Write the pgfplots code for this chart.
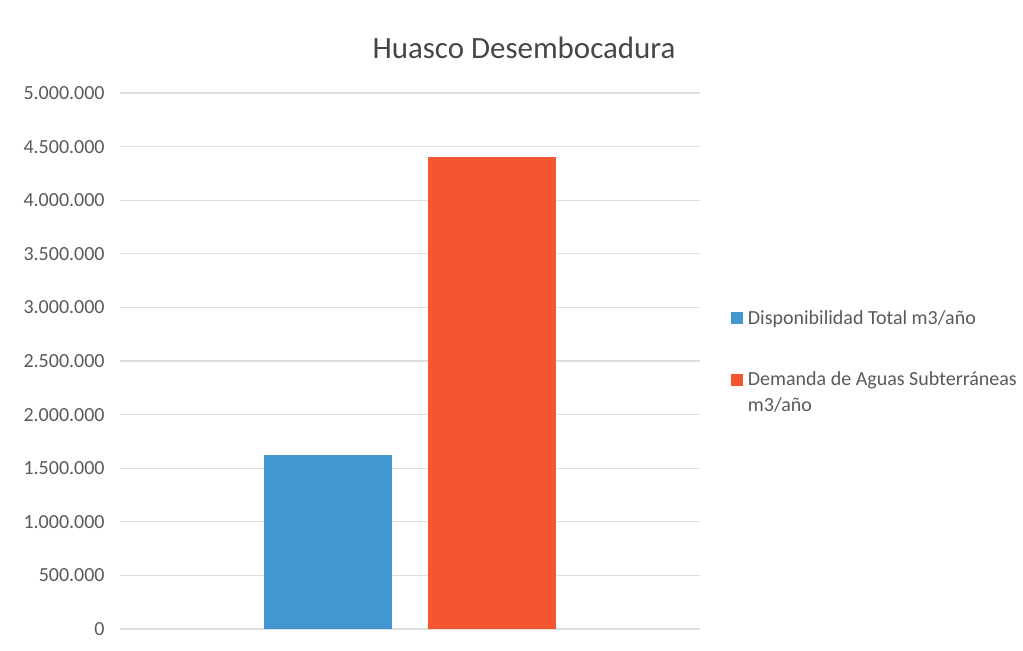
\documentclass[border=0pt]{standalone}
\usepackage{pgfplots}
\pgfplotsset{compat=1.18}
\usepackage{fontspec}
\setmainfont{Carlito}
\definecolor{barblue}{RGB}{67,151,207}
\definecolor{barred}{RGB}{244,86,50}
\definecolor{gridc}{RGB}{222,222,222}
\definecolor{txt}{RGB}{89,89,89}
\definecolor{titc}{RGB}{70,70,70}
\begin{document}
\begin{tikzpicture}[x=0.75pt,y=0.75pt]
\useasboundingbox (0,0) rectangle (1023,650);
\begin{axis}[
  at={(90pt,15.75pt)}, anchor=south west,
  scale only axis, width=435pt, height=402pt,
  xmin=-0.5, xmax=0.5, ymin=0, ymax=5000000,
  ytick={0,500000,...,5000000},
  xtick=\empty,
  axis line style={draw=none},
  major tick length=0pt,
  ymajorgrids, grid style={gridc, line width=0.9pt},
  scaled y ticks=false,
  /pgf/number format/.cd, fixed, 1000 sep={.}, assume math mode=true,
  /pgfplots/.cd,
  yticklabel style={font=\fontsize{15}{17}\selectfont, text=txt, xshift=-8pt},
  legend style={at={(axis description cs:1.0534,0.600)}, anchor=north west,
    draw=none, fill=none, inner sep=0pt, row sep=30pt,
    font=\fontsize{15}{19.5}\selectfont, text=txt,
    cells={anchor=west, align=left}},
  legend image code/.code={\fill[#1] (0pt,-4.5pt) rectangle (9pt,4.5pt); \path (10.5pt,0pt);},
]
\addplot[ybar, bar width=0.2207, bar shift=-0.1414, fill=barblue, draw=none]
  coordinates {(0,1625000)};
\addlegendentry{Disponibilidad Total m3/año}
\addplot[ybar, bar width=0.2207, bar shift=0.1414, fill=barred, draw=none,
  legend image code/.code={\fill[barred] (0pt,5pt) rectangle (9pt,14pt); \path (10.5pt,-14pt);}]
  coordinates {(0,4400000)};
\addlegendentry{Demanda de Aguas Subterráneas\\m3/año}
\end{axis}
\node[text=titc, font=\fontsize{23.2}{27}\selectfont] at (524,602) {Huasco Desembocadura};
\end{tikzpicture}
\end{document}
